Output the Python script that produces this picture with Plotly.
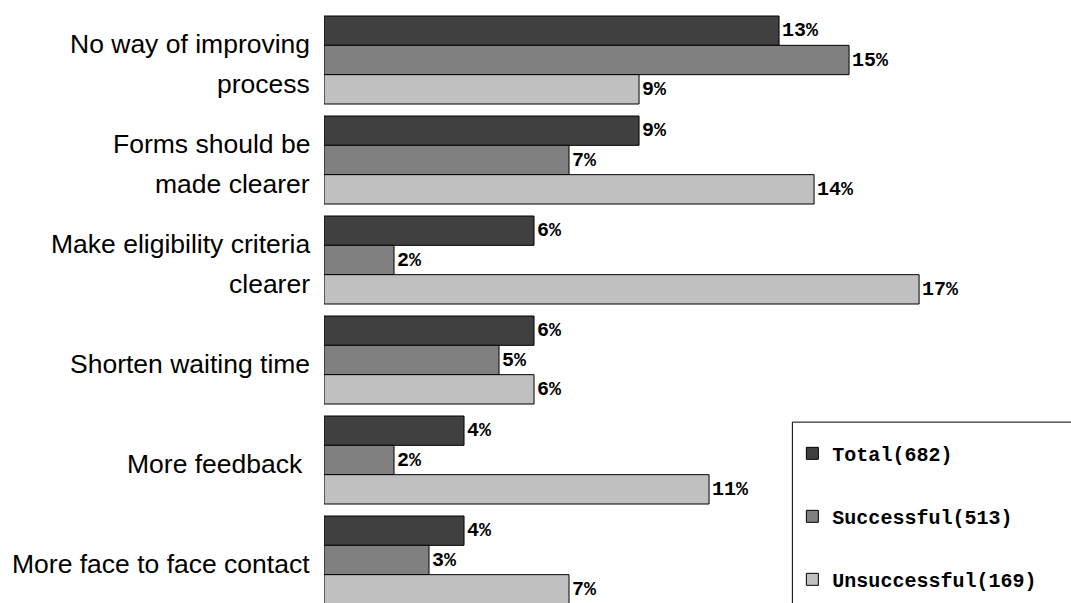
import plotly.graph_objects as go

# Survey answers: suggested improvements, % of respondents per group
categories = [
    "No way of improving<br>process",
    "Forms should be<br>made clearer",
    "Make eligibility criteria<br>clearer",
    "Shorten waiting time",
    "More feedback&nbsp;",
    "More face to face contact",
]
series_names = ["Total(682)", "Successful(513)", "Unsuccessful(169)"]
total = [13, 9, 6, 6, 4, 4]
successful = [15, 7, 2, 5, 2, 3]
unsuccessful = [9, 14, 17, 6, 11, 7]

colors = ["#404040", "#808080", "#C0C0C0"]
mono = "Liberation Mono, Courier New, monospace"

fig = go.Figure()
idx = list(range(len(categories)))
for name, vals, col in zip(series_names, [total, successful, unsuccessful], colors):
    fig.add_trace(go.Bar(
        y=idx, x=vals, orientation="h", name=name,
        marker=dict(color=col, line=dict(color="#000000", width=1)),
        text=[f"{v}%" for v in vals], textposition="outside",
        textfont=dict(family=mono, size=20, color="#000000", weight="bold"),
        cliponaxis=False, legendgroup=name,
    ))

# Category labels, one annotation per line for wide line spacing
line_gap = 40
for i, cat in enumerate(categories):
    lines = cat.split("<br>")
    n = len(lines)
    for j, line in enumerate(lines):
        fig.add_annotation(
            x=0, xref="paper", xanchor="right", xshift=-12,
            y=i, yref="y", yanchor="middle",
            yshift=-(j - (n - 1) / 2) * line_gap - 4,
            text=line, showarrow=False,
            font=dict(family="Liberation Sans, Arial, sans-serif", size=26.5, color="#000000"),
        )

# Legend frame that runs off the right and bottom edges of the page
legend_x, legend_y = 0.627, 0.305
fig.add_shape(
    type="rect", xref="paper", yref="paper",
    x0=legend_x, x1=1.2, y0=-0.2, y1=legend_y,
    line=dict(color="#000000", width=1), fillcolor="#FFFFFF", layer="above",
)

fig.update_layout(
    width=1071, height=603,
    margin=dict(l=324, r=0, t=10, b=0),
    paper_bgcolor="#FFFFFF", plot_bgcolor="#FFFFFF",
    barmode="group", bargap=0.12, bargroupgap=0,
    showlegend=True,
    legend=dict(
        x=legend_x, y=legend_y, xanchor="left", yanchor="top",
        xref="paper", yref="paper",
        borderwidth=0, bgcolor="rgba(0,0,0,0)",
        font=dict(family=mono, size=20, color="#000000", weight="bold"),
        title=dict(text="&nbsp;", font=dict(family=mono, size=9)),
        traceorder="grouped", tracegroupgap=34,
        itemwidth=30,
    ),
    xaxis=dict(range=[0, 21.34], visible=False),
    yaxis=dict(range=[5.43, -0.5], visible=False),
)

fig.write_html("out.html")
